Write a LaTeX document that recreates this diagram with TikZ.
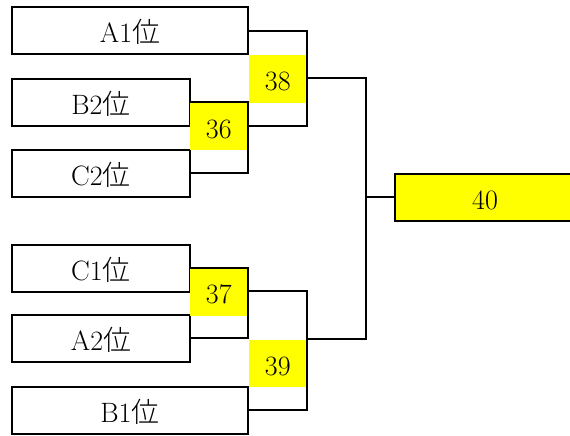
\documentclass[tikz,border=0pt]{standalone}
\usepackage{fontspec}
\newfontfamily\cjk{Noto Sans CJK JP Light}
\newcommand{\rank}{{\cjk 位}}
\definecolor{ybox}{RGB}{255,255,0}
\begin{document}
\begin{tikzpicture}[x=1pt,y=-1pt,
  team/.style={draw=black,line width=2pt,fill=white,inner sep=0pt,outer sep=0pt,
    font=\fontsize{28}{30}\selectfont,text height=26pt,text depth=2pt,
    minimum height=47pt},
  game/.style={fill=ybox,draw=none,inner sep=0pt,outer sep=0pt,
    font=\fontsize{28}{30}\selectfont,text height=26pt,text depth=2pt,
    minimum width=58.5pt,minimum height=47.5pt},
  final/.style={team,fill=ybox},
  link/.style={draw=black,line width=2pt}]
\useasboundingbox (0,0) rectangle (570,436);
% teams
\node[team,minimum width=236pt] (A1) at (130,31) {A1\rank};
\node[team,minimum width=178pt] (B2) at (101,102) {B2\rank};
\node[team,minimum width=178pt] (C2) at (101,173) {C2\rank};
\node[team,minimum width=178pt] (C1) at (101,268) {C1\rank};
\node[team,minimum width=178pt] (A2) at (101,338) {A2\rank};
\node[team,minimum width=236pt] (B1) at (130,410) {B1\rank};
\node[final,minimum width=180pt] (F) at (485,197) {40};
% games
\node[game] (g38) at (277.75,78.75) {38};
\node[game] (g36) at (218.75,126.25) {36};
\node[game] (g37) at (218.75,291.75) {37};
\node[game] (g39) at (277.75,363.25) {39};
\coordinate (J) at (366,197);
\coordinate (o36) at (248,126);
\coordinate (o38) at (307,78);
\coordinate (o37) at (248,291);
\coordinate (o39) at (307,339);
% brackets
\draw[link] (B2.east) -- (B2.east -| o36) -- (C2.east -| o36) -- (C2.east);
\draw[link] (A1.east) -- (A1.east -| o38) -- (o36 -| o38) -- (o36);
\draw[link] (C1.east) -- (C1.east -| o37) -- (A2.east -| o37) -- (A2.east);
\draw[link] (o37) -- (o37 -| o39) -- (B1.east -| o39) -- (B1.east);
\draw[link] (o38) -| (J) |- (o39);
\draw[link] (J) -- (F.west);
\end{tikzpicture}
\end{document}
